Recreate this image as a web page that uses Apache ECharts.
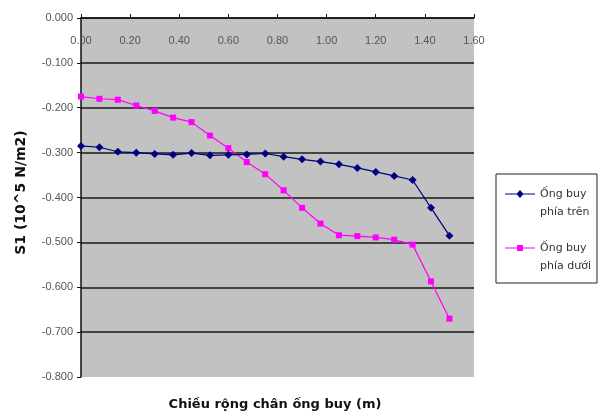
<!DOCTYPE html>
<html>
<head>
<meta charset="utf-8">
<script src="https://cdn.jsdelivr.net/npm/echarts@6/dist/echarts.min.js"></script>
<style>
  html, body { margin: 0; padding: 0; background: #fff; }
  #chart { width: 598px; height: 417px; }
</style>
</head>
<body>
<div id="chart"></div>
<script>
// Width positions along the pipe foot (m)
const widths = [0.000, 0.075, 0.150, 0.225, 0.300, 0.375, 0.450, 0.525, 0.600, 0.675,
                0.750, 0.825, 0.900, 0.975, 1.050, 1.125, 1.200, 1.275, 1.350, 1.425, 1.500];

// S1 values (10^5 N/m2), upper pipe
const upperS1 = [-0.285, -0.288, -0.298, -0.300, -0.303, -0.305, -0.301, -0.306, -0.305, -0.304,
                 -0.302, -0.309, -0.315, -0.320, -0.326, -0.334, -0.343, -0.352, -0.361, -0.423, -0.485];

// S1 values (10^5 N/m2), lower pipe
const lowerS1 = [-0.175, -0.180, -0.182, -0.195, -0.207, -0.222, -0.232, -0.262, -0.290, -0.321,
                 -0.348, -0.384, -0.423, -0.458, -0.484, -0.486, -0.489, -0.494, -0.505, -0.587, -0.670];

const seriesNames = ['Ống buy\nphía trên', 'Ống buy\nphía dưới'];
const xAxisTitle = 'Chiều rộng chân ống buy (m)';
const yAxisTitle = 'S1 (10^5 N/m2)';

const pair = (xs, ys) => xs.map((x, i) => [x, ys[i]]);

// Legend keys: a short line with the marker, sitting level with the first text line.
// The two tiny corner triangles only fix the 30x36 icon box so the key keeps its place.
const KEY_FRAME = 'M0 0L0.01 0L0 0.01Z M30 36L29.99 36L30 35.99Z';
const KEY_LINE = 'M0 8.4L30 8.4L30 9.6L0 9.6Z';
const diamondKey = 'path://' + KEY_FRAME + ' ' + KEY_LINE + ' M15 5L18.6 9L15 13L11.4 9Z';
const squareKey = 'path://' + KEY_FRAME + ' ' + KEY_LINE + ' M12 6L18 6L18 12L12 12Z';

const font = 'Liberation Sans, Arial, sans-serif';
const wideFont = 'DejaVu Sans, Verdana, sans-serif';
const chart = echarts.init(document.getElementById('chart'), null, { renderer: 'canvas' });

chart.setOption({
  animation: false,
  backgroundColor: '#ffffff',
  textStyle: { fontFamily: font },
  graphic: [{
    type: 'text',
    x: 275, y: 398,
    style: {
      text: xAxisTitle,
      align: 'center',
      verticalAlign: 'top',
      font: 'bold 13px ' + wideFont,
      fill: '#111'
    }
  }],
  grid: {
    left: 81, top: 18, width: 393, height: 359,
    show: true, backgroundColor: '#c2c2c2', borderWidth: 0
  },
  legend: {
    orient: 'vertical',
    left: 496, top: 174,
    padding: [11, 6, 8, 9],
    itemGap: 18,
    itemWidth: 30,
    itemHeight: 36,
    symbolKeepAspect: false,
    borderColor: '#222',
    borderWidth: 1,
    textStyle: { fontFamily: wideFont, fontSize: 11, lineHeight: 18, color: '#333' },
    data: [
      { name: seriesNames[0], icon: diamondKey },
      { name: seriesNames[1], icon: squareKey }
    ]
  },
  xAxis: {
    type: 'value',
    position: 'top',
    min: 0, max: 1.6, interval: 0.2,
    axisLine: { show: true, onZero: false, lineStyle: { color: '#111', width: 1.5 } },
    axisTick: { show: true, inside: false, length: 4, lineStyle: { color: '#111' } },
    axisLabel: {
      inside: true, margin: 17,
      fontFamily: font, fontSize: 11, color: '#555',
      formatter: v => v.toFixed(2)
    },
    splitLine: { show: false }
  },
  yAxis: {
    type: 'value',
    min: -0.8, max: 0, interval: 0.1,
    name: yAxisTitle,
    nameLocation: 'middle',
    nameGap: 53,
    nameTextStyle: { fontFamily: wideFont, fontSize: 14, fontWeight: 'bold', color: '#111', padding: [0, 0, 0, 10] },
    axisLine: { show: true, onZero: false, lineStyle: { color: '#111', width: 1.5 } },
    axisTick: { show: true, length: 4, lineStyle: { color: '#111' } },
    axisLabel: {
      margin: 8, fontFamily: font, fontSize: 11, color: '#555',
      formatter: v => v.toFixed(3)
    },
    splitLine: {
      show: true,
      lineStyle: {
        width: 1.5,
        color: ['rgba(0,0,0,0)', '#1a1a1a', '#1a1a1a', '#1a1a1a', '#1a1a1a',
                '#1a1a1a', '#1a1a1a', '#1a1a1a', '#1a1a1a']
      }
    }
  },
  series: [
    {
      name: seriesNames[0],
      type: 'line',
      data: pair(widths, upperS1),
      symbol: 'diamond',
      symbolSize: 8,
      color: '#000080',
      lineStyle: { color: '#000080', width: 1.2 },
      itemStyle: { color: '#000080' },
      z: 3
    },
    {
      name: seriesNames[1],
      type: 'line',
      data: pair(widths, lowerS1),
      symbol: 'rect',
      symbolSize: 6,
      color: '#ff00ff',
      lineStyle: { color: '#ff00ff', width: 1.2 },
      itemStyle: { color: '#ff00ff' },
      z: 2
    }
  ]
});
</script>
</body>
</html>
